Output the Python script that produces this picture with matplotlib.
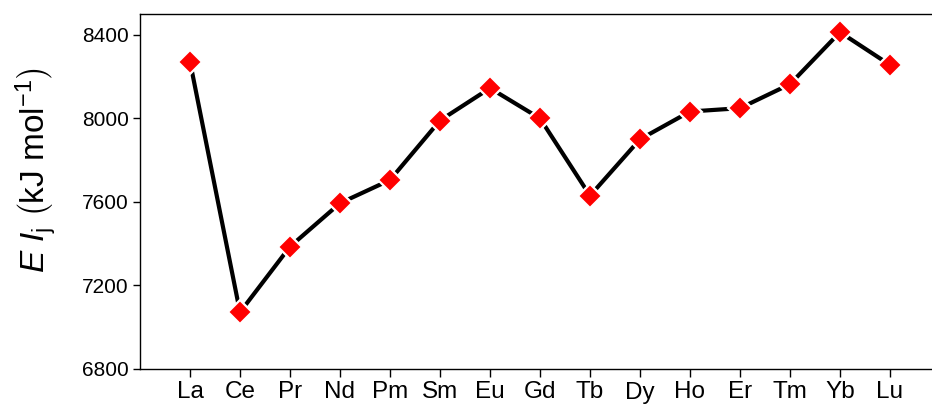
import numpy as np
import matplotlib.pyplot as plt

plt.rcParams['font.family'] = ['Liberation Sans', 'DejaVu Sans']
plt.rcParams['mathtext.fontset'] = 'custom'
plt.rcParams['mathtext.rm'] = 'Liberation Sans'
plt.rcParams['mathtext.it'] = 'Liberation Sans:italic'

elements = ['La', 'Ce', 'Pr', 'Nd', 'Pm', 'Sm', 'Eu', 'Gd',
            'Tb', 'Dy', 'Ho', 'Er', 'Tm', 'Yb', 'Lu']
energy = [8272, 7072, 7386, 7594, 7705, 7990, 8145, 8000,
          7630, 7900, 8033, 8049, 8164, 8413, 8256]
yticks = [6800, 7200, 7600, 8000, 8400]

x = np.arange(len(elements))

fig = plt.figure(figsize=(9.32, 4.04), dpi=100)
ax = fig.add_axes([140/932, 1 - 369/404, 1 - 140/932, (369 - 14)/404])

ax.plot(x, energy, color='black', lw=3, marker='D', ms=12,
        mfc='red', mec='white', mew=1.6)

ax.set_xlim(-1, 14.84)
ax.set_ylim(6800, 8500)
ax.set_xticks(x)
ax.set_xticklabels(elements, fontsize=17.5)
ax.set_yticks(yticks)
ax.tick_params(axis='y', labelsize=15, length=5, width=1, pad=3)
ax.tick_params(axis='x', length=6, width=1, pad=3)
ax.spines['right'].set_visible(False)
for s in ['left', 'bottom', 'top']:
    ax.spines[s].set_linewidth(1.0)

ax.set_ylabel(r'$E\ I_{\mathrm{j}}\ \left(\mathrm{kJ\ mol}^{-1}_{\ }\right)$', fontsize=24)
ax.yaxis.set_label_coords(-0.104, 0.56)

fig.savefig('out.png', dpi=100)
